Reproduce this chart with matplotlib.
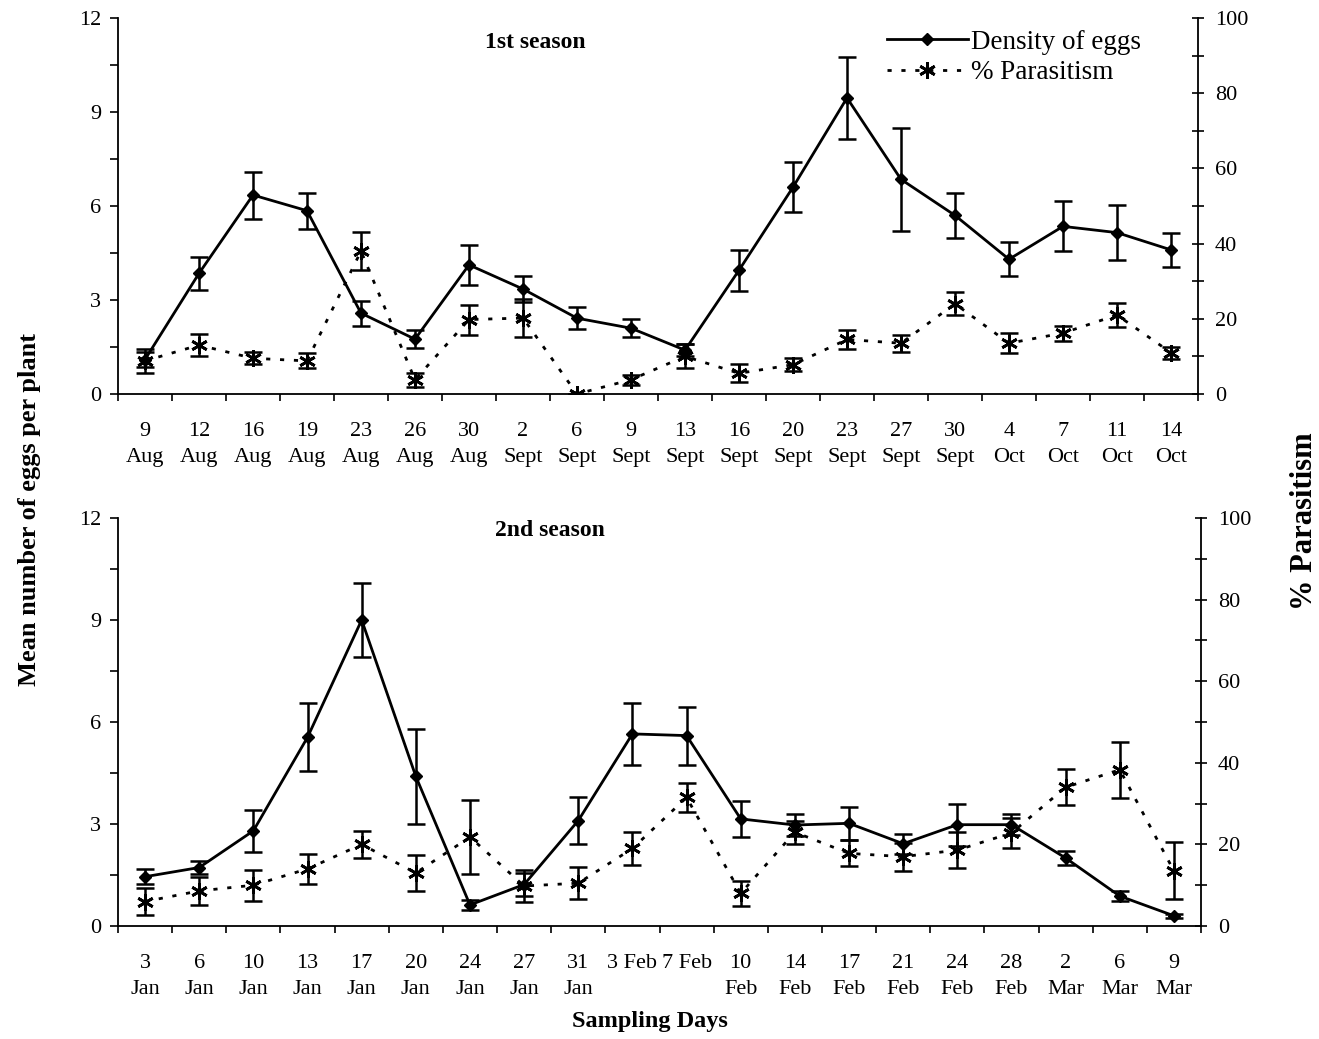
import matplotlib
matplotlib.use("Agg")
import matplotlib.pyplot as plt
from matplotlib.lines import Line2D
from matplotlib.ticker import MultipleLocator, FixedLocator
import numpy as np

plt.rcParams['font.family'] = ['Liberation Serif', 'DejaVu Serif']

# ---------------- data ----------------
labels_s1 = ["9\nAug", "12\nAug", "16\nAug", "19\nAug", "23\nAug", "26\nAug", "30\nAug",
             "2\nSept", "6\nSept", "9\nSept", "13\nSept", "16\nSept", "20\nSept", "23\nSept",
             "27\nSept", "30\nSept", "4\nOct", "7\nOct", "11\nOct", "14\nOct"]
dens_s1 = [1.1, 3.85, 6.35, 5.85, 2.58, 1.75, 4.12, 3.35, 2.42, 2.1,
           1.4, 3.95, 6.6, 9.45, 6.85, 5.7, 4.3, 5.35, 5.15, 4.6]
dens_s1_err = [0.25, 0.52, 0.75, 0.58, 0.4, 0.28, 0.65, 0.42, 0.35, 0.28,
               0.2, 0.65, 0.8, 1.3, 1.65, 0.72, 0.55, 0.8, 0.87, 0.55]
para_s1 = [8.8, 13.0, 9.5, 8.8, 38.0, 3.8, 19.8, 20.2, 0.0, 3.8,
           10.0, 5.5, 7.8, 14.5, 13.5, 24.0, 13.5, 16.2, 21.0, 11.0]
para_s1_err = [3.3, 3.0, 1.6, 2.0, 5.0, 1.9, 4.0, 5.0, 0.0, 1.3,
               3.2, 2.4, 1.7, 2.4, 2.2, 3.0, 2.6, 2.0, 3.3, 1.6]

labels_s2 = ["3\nJan", "6\nJan", "10\nJan", "13\nJan", "17\nJan", "20\nJan", "24\nJan",
             "27\nJan", "31\nJan", "3 Feb", "7 Feb", "10\nFeb", "14\nFeb", "17\nFeb",
             "21\nFeb", "24\nFeb", "28\nFeb", "2\nMar", "6\nMar", "9\nMar"]
dens_s2 = [1.45, 1.72, 2.8, 5.55, 9.0, 4.4, 0.62, 1.22, 3.1, 5.65,
           5.6, 3.15, 2.97, 3.02, 2.42, 2.98, 2.98, 2.0, 0.88, 0.3]
dens_s2_err = [0.22, 0.2, 0.62, 1.0, 1.1, 1.4, 0.15, 0.35, 0.7, 0.9,
               0.85, 0.52, 0.32, 0.49, 0.3, 0.62, 0.3, 0.22, 0.15, 0.05]
para_s2 = [6.0, 8.6, 10.0, 14.0, 20.0, 13.0, 21.8, 9.8, 10.5, 19.0,
           31.5, 8.0, 23.0, 17.8, 17.0, 18.6, 22.8, 34.0, 38.3, 13.5]
para_s2_err = [3.4, 3.4, 3.8, 3.7, 3.4, 4.4, 9.0, 4.0, 4.0, 4.0,
               3.5, 3.0, 2.8, 3.2, 3.4, 4.5, 3.6, 4.4, 6.9, 7.0]

# ---------------- figure ----------------
W, H = 1319, 1039
fig = plt.figure(figsize=(W / 100, H / 100), dpi=100)

TICK_FS = 16
ast = (6, 2, 0)


def panel(rect, labels, dens, dens_err, para, para_err, title, title_xy):
    ax = fig.add_axes(rect)
    x = np.arange(len(labels))
    ax.errorbar(x, dens, yerr=dens_err, fmt='-', marker='D', color='black',
                lw=2.0, ms=6, capsize=6.5, elinewidth=1.8, capthick=1.8, zorder=3)
    ax.set_xlim(-0.5, len(labels) - 0.5)
    ax.set_ylim(0, 12)
    ax.yaxis.set_major_locator(MultipleLocator(3))
    ax.yaxis.set_minor_locator(MultipleLocator(1.5))
    ax.set_xticks(x)
    ax.set_xticklabels(labels, fontsize=TICK_FS, linespacing=1.5)
    ax.xaxis.set_minor_locator(FixedLocator(np.arange(-0.5, len(labels), 1.0)))
    ax.tick_params(axis='x', which='major', length=0, pad=20)
    ax.tick_params(axis='x', which='minor', length=5, width=1.2, direction='out')
    ax.tick_params(axis='y', which='both', length=6, width=1.2, direction='out',
                   labelsize=TICK_FS, pad=6)
    for s in ['top', 'right']:
        ax.spines[s].set_visible(False)
    for s in ['left', 'bottom']:
        ax.spines[s].set_linewidth(1.3)

    ax2 = ax.twinx()
    ax2.errorbar(x, para, yerr=para_err, fmt='none', ecolor='black',
                 elinewidth=1.8, capsize=6.5, capthick=1.8, zorder=3)
    ax2.plot(x, para, color='black', lw=2.0, linestyle=(0, (1.5, 3.5)),
             marker=ast, ms=12, mew=2.0, zorder=4)
    ax2.set_ylim(0, 100)
    ax2.yaxis.set_major_locator(MultipleLocator(20))
    ax2.yaxis.set_minor_locator(MultipleLocator(10))
    ax2.tick_params(axis='y', which='both', length=8, width=1.2, direction='inout',
                    labelsize=TICK_FS, pad=8)
    for s in ['top', 'left', 'bottom']:
        ax2.spines[s].set_visible(False)
    ax2.spines['right'].set_linewidth(1.3)

    ax.text(title_xy[0], title_xy[1], title, transform=ax.transAxes,
            fontsize=17, fontweight='bold', ha='center', va='center')
    return ax, ax2


top_rect = [118 / W, 1 - 394 / H, 1080 / W, 376 / H]
bot_rect = [118 / W, 1 - 926 / H, 1083 / W, 408 / H]

ax1, ax1b = panel(top_rect, labels_s1, dens_s1, dens_s1_err, para_s1, para_s1_err,
                  "1st season", (0.386, 0.936))
ax2, ax2b = panel(bot_rect, labels_s2, dens_s2, dens_s2_err, para_s2, para_s2_err,
                  "2nd season", (0.399, 0.97))

handles = [Line2D([], [], color='black', lw=2.0, marker='D', ms=6),
           Line2D([], [], color='black', lw=2.0, linestyle=(0, (1.5, 3.5)),
                  marker=ast, ms=12, mew=2.0)]
ax1b.legend(handles, ["Density of eggs", "% Parasitism"], loc='upper right',
            bbox_to_anchor=(0.957, 0.998), frameon=False, fontsize=19.5,
            handlelength=3.0, handletextpad=0.1, labelspacing=0.2,
            borderaxespad=0, numpoints=1)

fig.text(30 / W, 1 - 510 / H, "Mean number of eggs per plant", rotation=90,
         fontsize=19, fontweight='bold', ha='center', va='center')
fig.text(1305 / W, 1 - 521 / H, "% Parasitism", rotation=90,
         fontsize=22, fontweight='bold', ha='center', va='center')
fig.text(650 / W, 1 - 1022 / H, "Sampling Days",
         fontsize=17.5, fontweight='bold', ha='center', va='center')

fig.savefig("out.png", dpi=100)
